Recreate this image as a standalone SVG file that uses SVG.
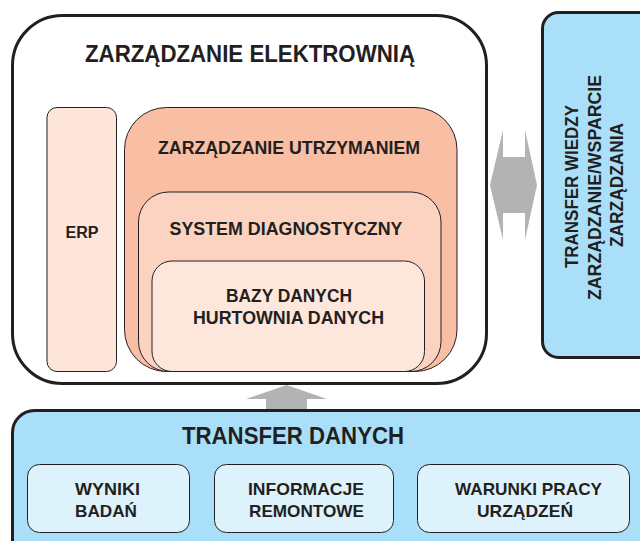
<svg xmlns="http://www.w3.org/2000/svg" width="640" height="541" viewBox="0 0 640 541">
<style>
text{font-family:"Liberation Sans",Arial,sans-serif;font-weight:bold;fill:#231f20;text-anchor:middle}
.thick{stroke:#231f20;stroke-width:3}
.thin{stroke:#231f20;stroke-width:1}
.blue{fill:#a9dff8}
.sub{fill:#def2fb}
.arr{fill:#b3b3b3;stroke:none}
</style>
<rect width="640" height="541" fill="#ffffff"/>
<g id="zarzadzanie-elektrownia">
<rect class="thick" x="12.5" y="15.5" width="474" height="368" rx="50" ry="50" fill="#ffffff"/>
<text x="250" y="62" font-size="23" textLength="330" lengthAdjust="spacingAndGlyphs">ZARZĄDZANIE ELEKTROWNIĄ</text>
</g>
<g id="erp">
<rect class="thin" x="47" y="107.5" width="69.5" height="264" rx="10" ry="10" fill="#fde5da"/>
<text x="82" y="238" font-size="16" textLength="33" lengthAdjust="spacingAndGlyphs">ERP</text>
</g>
<g id="zarzadzanie-utrzymaniem">
<rect class="thin" x="124.5" y="107.5" width="332.5" height="264" rx="42" ry="42" fill="#f9bfa5"/>
<text x="289" y="154" font-size="18" textLength="262" lengthAdjust="spacingAndGlyphs">ZARZĄDZANIE UTRZYMANIEM</text>
</g>
<g id="system-diagnostyczny">
<rect class="thin" x="138.5" y="192" width="302.5" height="179.5" rx="30" ry="30" fill="#fcd3c0"/>
<text x="286" y="235" font-size="18" textLength="233" lengthAdjust="spacingAndGlyphs">SYSTEM DIAGNOSTYCZNY</text>
</g>
<g id="bazy-danych">
<rect class="thin" x="152" y="261" width="272.5" height="110.5" rx="20" ry="20" fill="#fde6dc"/>
<text x="289" y="302" font-size="18" textLength="126" lengthAdjust="spacingAndGlyphs">BAZY DANYCH</text>
<text x="288.5" y="323.5" font-size="18" textLength="191" lengthAdjust="spacingAndGlyphs">HURTOWNIA DANYCH</text>
</g>
<g id="transfer-wiedzy">
<rect class="thick blue" x="542.5" y="12.5" width="120" height="345" rx="16" ry="16"/>
<text transform="translate(578,186.5) rotate(-90)" font-size="18" textLength="163" lengthAdjust="spacingAndGlyphs">TRANSFER WIEDZY</text>
<text transform="translate(601,187.5) rotate(-90)" font-size="18" textLength="225" lengthAdjust="spacingAndGlyphs">ZARZĄDZANIE/WSPARCIE</text>
<text transform="translate(623,185) rotate(-90)" font-size="18" textLength="124" lengthAdjust="spacingAndGlyphs">ZARZĄDZANIA</text>
</g>
<g id="transfer-danych">
<rect class="thick blue" x="12.5" y="410.5" width="660" height="160" rx="22" ry="22"/>
<text x="293" y="444" font-size="23" textLength="222" lengthAdjust="spacingAndGlyphs">TRANSFER DANYCH</text>
</g>
<g id="wyniki-badan">
<rect class="thin sub" x="27.5" y="464.5" width="162" height="68" rx="12" ry="12"/>
<text x="107.5" y="495" font-size="17" textLength="65" lengthAdjust="spacingAndGlyphs">WYNIKI</text>
<text x="106" y="517" font-size="17" textLength="62" lengthAdjust="spacingAndGlyphs">BADAŃ</text>
</g>
<g id="informacje-remontowe">
<rect class="thin sub" x="214.5" y="464.5" width="179" height="68" rx="12" ry="12"/>
<text x="306" y="495" font-size="17" textLength="116" lengthAdjust="spacingAndGlyphs">INFORMACJE</text>
<text x="306.5" y="517" font-size="17" textLength="115" lengthAdjust="spacingAndGlyphs">REMONTOWE</text>
</g>
<g id="warunki-pracy">
<rect class="thin sub" x="417.5" y="464.5" width="212" height="68" rx="12" ry="12"/>
<text x="528.5" y="495" font-size="17" textLength="147" lengthAdjust="spacingAndGlyphs">WARUNKI PRACY</text>
<text x="525" y="517" font-size="17" textLength="96" lengthAdjust="spacingAndGlyphs">URZĄDZEŃ</text>
</g>
<g id="connectors">
<polygon class="arr" points="286.5,385 327,399 307,399 307,409 266,409 266,399 246,399"/>
<polygon class="arr" points="490,185 503,130 503,157 525,157 525,130 537,185 525,240 525,213 503,213 503,240"/>
</g>
</svg>
